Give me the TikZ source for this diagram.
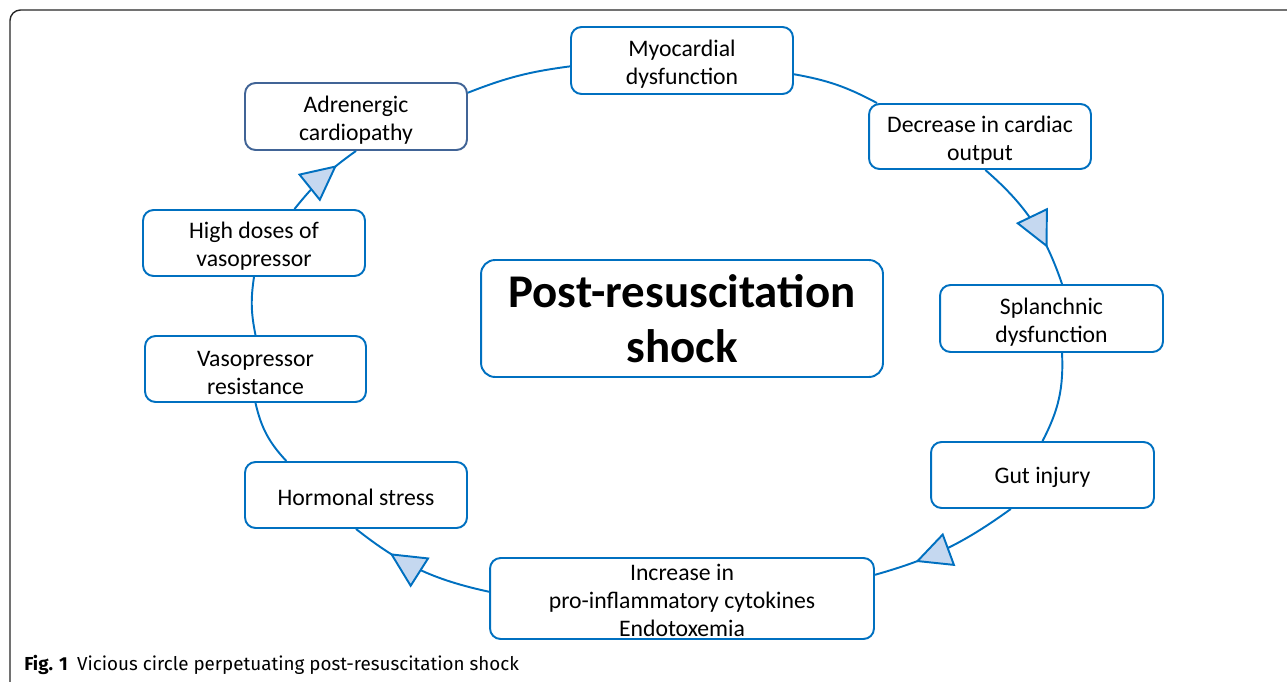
\documentclass[tikz,border=0pt]{standalone}
\usepackage{fontspec}
\setmainfont{Carlito}
\newfontfamily\capfont{Fira Sans}
\usetikzlibrary{arrows.meta,decorations.markings}

\definecolor{linkblue}{RGB}{0,112,192}
\definecolor{slateblue}{RGB}{65,100,150}
\definecolor{tipfill}{RGB}{197,216,240}

\newcommand{\lift}{\rule{0pt}{13.4pt}}

\tikzset{
  box/.style={draw=linkblue, line width=1.1pt, rounded corners=6pt, fill=white, align=center,
    inner sep=2pt, minimum width=4.44cm, minimum height=1.34cm, font=\fontsize{13.5}{16}\selectfont},
  hubbox/.style={box, rounded corners=8pt, minimum width=8.04cm, minimum height=2.34cm,
    font=\fontsize{26.7}{31}\selectfont\bfseries},
  link/.style={color=linkblue, line width=1.1pt},
  flow/.style={link, postaction={decorate}, decoration={markings,
    mark=at position 0.72 with {\arrow{Triangle[length=0.72cm,width=0.7cm,fill=tipfill]}}}}
}

\begin{document}
\begin{tikzpicture}[x=0.02cm, y=-0.02cm]
\useasboundingbox (0,0) rectangle (1287,682);
\clip (0,0) rectangle (1287,682);

\draw[line width=0.8pt, rounded corners=6pt, color=black!85] (10,10) rectangle (1330,730);

\node[box] (myo) at (682,60.5) {\lift Myocardial\\dysfunction};
\node[box, draw=slateblue] (adren) at (356,116.5) {\lift Adrenergic\\cardiopathy};
\node[box, minimum height=1.3cm] (cardiac) at (980,136.5) {\lift Decrease in cardiac\\output};
\node[box, minimum height=1.32cm] (doses) at (254,243) {\lift High doses of\\vasopressor};
\node[hubbox] (shock) at (682,318.5) {Post-resuscitation\\shock};
\node[box, minimum width=4.46cm] (splanch) at (1051.5,318.5) {\lift Splanchnic\\dysfunction};
\node[box, minimum width=4.42cm, minimum height=1.32cm] (resist) at (255.5,369) {\lift Vasopressor\\resistance};
\node[box, minimum width=4.46cm, minimum height=1.32cm] (gut) at (1042.5,475) {\rule{0pt}{11.5pt}Gut injury};
\node[box, minimum height=1.32cm] (hormonal) at (356,495) {\rule{0pt}{11.5pt}Hormonal stress};
\node[box, inner ysep=0pt, minimum width=7.68cm, minimum height=1.62cm] (cyto) at (682,598.5)
  {\rule{0pt}{11.8pt}Increase in\\pro-inflammatory cytokines\\Endotoxemia};

\draw[link] (adren.12) to[bend left=7] (myo.183);
\draw[link] (myo.-7) to[bend left=9] (cardiac.162);
\draw[flow] (cardiac.-81) to[bend left=15] (splanch.73);
\draw[link] (splanch.-73) to[bend left=15] (gut.north);
\draw[flow] (gut.-133) to[bend left=10] (cyto.7);
\draw[flow] (cyto.178) to[bend left=13] (hormonal.south);
\draw[link] (hormonal.154) to[bend left=15] (resist.south);
\draw[link] (resist.north) to[bend left=10] (doses.south);
\draw[flow] (doses.40) to[bend left=8] (adren.south);

\node[anchor=base west, inner sep=0pt, font=\capfont\fontsize{10.7}{12}\selectfont] (caption) at (24,670)
  {\textbf{Fig. 1}\hspace{0.5em}Vicious circle perpetuating post-resuscitation shock};
\end{tikzpicture}
\end{document}
